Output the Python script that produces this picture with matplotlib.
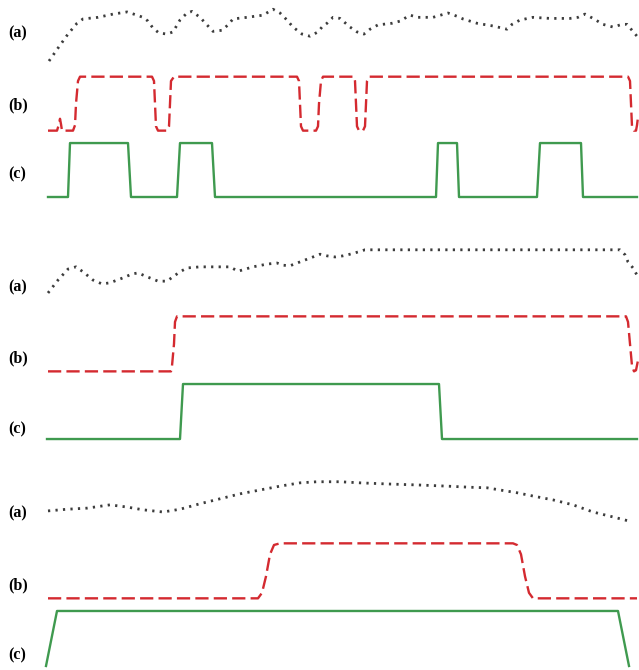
import matplotlib
matplotlib.use("Agg")
import matplotlib.pyplot as plt

# ---------------- data (time samples, signal values) ----------------
# Panel 1
p1_a_t = [49, 58, 68, 77, 83, 98, 113, 127, 137, 143, 148, 153, 159, 167, 173, 180, 187, 192,
          200, 207, 213, 222, 228, 233, 247, 263, 273, 280, 287, 293, 302, 310, 318, 322, 327,
          333, 340, 350, 357, 364, 370, 378, 392, 400, 410, 418, 433, 448, 457, 463, 477, 493,
          507, 512, 520, 533, 550, 570, 578, 585, 593, 603, 613, 622, 627, 632, 637]
p1_a_v = [0.02, 0.26, 0.52, 0.72, 0.80, 0.83, 0.89, 0.93, 0.87, 0.83, 0.76, 0.63, 0.54, 0.52,
          0.56, 0.78, 0.91, 0.94, 0.83, 0.69, 0.57, 0.59, 0.69, 0.80, 0.83, 0.87, 0.98, 0.91,
          0.78, 0.65, 0.52, 0.48, 0.56, 0.65, 0.72, 0.83, 0.81, 0.65, 0.56, 0.52, 0.61, 0.69,
          0.72, 0.76, 0.87, 0.83, 0.83, 0.91, 0.85, 0.80, 0.72, 0.67, 0.61, 0.70, 0.78, 0.83,
          0.81, 0.81, 0.83, 0.89, 0.81, 0.70, 0.65, 0.70, 0.70, 0.59, 0.48]
p1_b_t = [48, 57, 59, 60, 61, 62, 73, 75, 76, 78, 80, 152, 154, 155, 156, 158, 167, 169, 170,
          171, 174, 297, 299, 300, 301, 303, 316, 318, 319, 321, 323, 354, 355, 356, 357, 359,
          363, 365, 366, 367, 369, 628, 630, 631, 632, 634, 636, 637, 638]
p1_b_v = [0, 0, 0.12, 0.22, 0.12, 0, 0, 0.1, 0.5, 0.92, 1, 1, 0.92, 0.5, 0.08, 0, 0, 0.08, 0.5,
          0.92, 1, 1, 0.92, 0.5, 0.08, 0, 0, 0.08, 0.5, 0.92, 1, 1, 0.92, 0.5, 0.08, 0, 0, 0.08,
          0.5, 0.92, 1, 1, 0.92, 0.5, 0.08, 0, 0, 0.1, 0.25]
p1_c_t = [48, 68, 70, 128, 131, 177, 180, 212, 215, 436, 438, 457, 459, 537, 540, 581, 583, 637]
p1_c_v = [0, 0, 1, 1, 0, 0, 1, 1, 0, 0, 1, 1, 0, 0, 1, 1, 0, 0]

# Panel 2
p2_a_t = [48, 58, 68, 76, 83, 93, 102, 110, 123, 132, 138, 147, 158, 167, 173, 180, 187, 200,
          217, 230, 238, 253, 267, 277, 283, 290, 300, 313, 320, 327, 335, 343, 350, 358, 365,
          620, 625, 628, 633, 637]
p2_a_v = [0.155, 0.39, 0.59, 0.63, 0.54, 0.39, 0.32, 0.34, 0.43, 0.50, 0.52, 0.45, 0.37, 0.37,
          0.45, 0.54, 0.61, 0.63, 0.63, 0.63, 0.55, 0.63, 0.68, 0.70, 0.66, 0.65, 0.72, 0.81,
          0.86, 0.83, 0.81, 0.83, 0.86, 0.90, 0.94, 0.94, 0.85, 0.72, 0.61, 0.48]
p2_b_t = [48, 171, 172, 174, 175, 177, 626, 628, 630, 632, 634, 636, 638]
p2_b_v = [0, 0, 0.1, 0.5, 0.9, 1, 1, 0.9, 0.5, 0.1, 0, 0.02, 0.2]
p2_c_t = [47, 180, 183, 439, 442, 637]
p2_c_v = [0, 0, 1, 1, 0, 0]

# Panel 3
p3_a_t = [48, 67, 87, 110, 127, 143, 163, 180, 200, 220, 240, 260, 280, 300, 317, 340, 360,
          387, 420, 447, 470, 487, 500, 517, 533, 553, 573, 593, 613, 628]
p3_a_v = [0.32, 0.35, 0.37, 0.43, 0.39, 0.34, 0.30, 0.35, 0.45, 0.54, 0.63, 0.70, 0.77, 0.83,
          0.85, 0.85, 0.83, 0.81, 0.79, 0.77, 0.75, 0.74, 0.70, 0.65, 0.59, 0.52, 0.43, 0.30,
          0.21, 0.14]
p3_b_t = [48, 258, 262, 266, 270, 274, 280, 513, 517, 521, 525, 529, 533, 637]
p3_b_v = [0, 0, 0.1, 0.4, 0.8, 0.97, 1, 1, 0.97, 0.8, 0.4, 0.1, 0, 0]
p3_c_t = [46, 57, 618, 629]
p3_c_v = [0, 1, 1, 0]

labels = ["(a)", "(b)", "(c)"]

# ---------------- drawing ----------------
W, H = 639, 670
fig = plt.figure(figsize=(W / 100, H / 100), dpi=100)

A_OFF, B_OFF = 2.5, 1.23
GRAY, RED, GREEN = "#3c3c3c", "#d42a30", "#3f9a4f"

panels = [
    dict(a=(p1_a_t, p1_a_v), b=(p1_b_t, p1_b_v), c=(p1_c_t, p1_c_v),
         pos=[0, 0.6818, 1, 0.3181], ylim=(-0.3, 3.65), lab_y=[3.04, 1.70, 0.41]),
    dict(a=(p2_a_t, p2_a_v), b=(p2_b_t, p2_b_v), c=(p2_c_t, p2_c_v),
         pos=[0, 0.3201, 1, 0.3243], ylim=(-0.3, 3.65), lab_y=[2.75, 1.47, 0.18]),
    dict(a=(p3_a_t, p3_a_v), b=(p3_b_t, p3_b_v), c=(p3_c_t, p3_c_v),
         pos=[0, 0.0019, 1, 0.3037], ylim=(-0.05, 3.65), lab_y=[2.78, 1.47, 0.2]),
]

for p in panels:
    ax = fig.add_axes(p["pos"])
    ax.set_xlim(0, W)
    ax.set_ylim(*p["ylim"])
    ax.axis("off")
    ta, va = p["a"]
    tb, vb = p["b"]
    tc, vc = p["c"]
    ax.plot(ta, [v + A_OFF for v in va], color=GRAY, lw=2.0,
            linestyle=(0, (0.8, 1.9)), dash_capstyle="butt", clip_on=False)
    ax.plot(tb, [v + B_OFF for v in vb], color=RED, lw=1.7,
            linestyle=(0, (5.6, 2.2)), clip_on=False)
    ax.plot(tc, vc, color=GREEN, lw=1.7, clip_on=False)
    for lab, ly in zip(labels, p["lab_y"]):
        ax.text(8, ly, lab, fontsize=11.5, fontweight="bold",
                family="Liberation Serif", ha="left", va="center")

fig.savefig("out.png", dpi=100)
